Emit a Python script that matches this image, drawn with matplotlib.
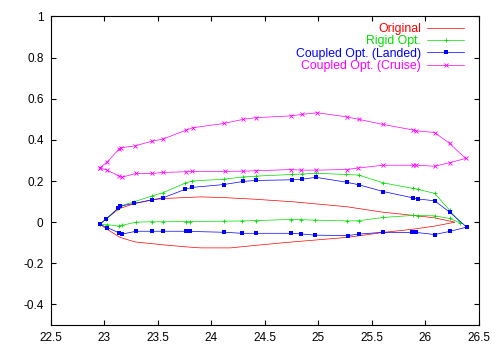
import matplotlib
matplotlib.use('Agg')
import matplotlib.pyplot as plt

plt.rcParams['font.family'] = ['Liberation Sans', 'DejaVu Sans']

# Original airfoil (no markers): upper LE->TE, then lower TE->LE
orig_x = [22.96, 23.03, 23.14, 23.28, 23.45, 23.55, 23.77, 23.9, 24.1, 24.4, 24.77, 25.27, 25.6, 25.89, 26.09, 26.28,
          26.09, 25.89, 25.61, 25.27, 24.74, 24.43, 24.18, 23.9, 23.77, 23.55, 23.29, 23.15, 23.03, 22.96]
orig_y = [-0.01, 0.02, 0.065, 0.09, 0.108, 0.115, 0.12, 0.123, 0.12, 0.112, 0.099, 0.075, 0.049, 0.033, 0.021, 0.0,
          -0.019, -0.034, -0.05, -0.074, -0.097, -0.112, -0.125, -0.125, -0.12, -0.11, -0.096, -0.074, -0.035, -0.01]

# Rigid optimisation
rigid_x = [22.96, 23.02, 23.13, 23.15, 23.28, 23.45, 23.55, 23.76, 23.82, 24.12, 24.30, 24.42, 24.76, 24.85, 24.98,
           25.26, 25.38, 25.61, 25.89, 25.93, 26.09, 26.23, 26.33,
           26.23, 26.09, 25.93, 25.89, 25.61, 25.38, 25.27, 24.97, 24.84, 24.75, 24.42, 24.29, 24.12, 23.80, 23.77,
           23.55, 23.45, 23.30, 23.17, 23.14, 23.03, 22.96]
rigid_y = [-0.01, 0.015, 0.067, 0.078, 0.099, 0.128, 0.143, 0.19, 0.20, 0.209, 0.22, 0.224, 0.232, 0.234, 0.238,
           0.232, 0.229, 0.191, 0.164, 0.16, 0.14, 0.058, -0.003,
           0.018, 0.031, 0.032, 0.033, 0.023, 0.007, 0.006, 0.01, 0.012, 0.013, 0.008, 0.006, 0.005, 0.003, 0.003,
           0.002, 0.002, 0.0, -0.015, -0.019, -0.012, -0.01]

# Coupled optimisation, landed
landed_x = [22.96, 23.02, 23.13, 23.15, 23.28, 23.45, 23.55, 23.76, 23.82, 24.12, 24.30, 24.42, 24.76, 24.85, 24.98,
            25.27, 25.38, 25.61, 25.89, 25.93, 26.09, 26.23, 26.39,
            26.23, 26.09, 25.92, 25.88, 25.61, 25.38, 25.28, 24.97, 24.84, 24.75, 24.42, 24.29, 24.12, 23.80, 23.77,
            23.55, 23.45, 23.30, 23.17, 23.14, 23.03, 22.96]
landed_y = [-0.01, 0.015, 0.067, 0.078, 0.091, 0.109, 0.118, 0.16, 0.169, 0.183, 0.198, 0.203, 0.206, 0.209, 0.218,
            0.194, 0.182, 0.149, 0.118, 0.113, 0.104, 0.049, -0.024,
            -0.045, -0.06, -0.05, -0.05, -0.049, -0.058, -0.065, -0.063, -0.057, -0.054, -0.054, -0.054, -0.049,
            -0.045, -0.044, -0.044, -0.044, -0.044, -0.058, -0.052, -0.026, -0.01]

# Coupled optimisation, cruise
cruise_x = [22.96, 23.03, 23.14, 23.16, 23.29, 23.45, 23.55, 23.77, 23.83, 24.12, 24.30, 24.42, 24.75, 24.85, 24.99,
            25.27, 25.38, 25.61, 25.89, 25.92, 26.09, 26.23, 26.38,
            26.23, 26.09, 25.92, 25.89, 25.61, 25.37, 25.27, 24.98, 24.84, 24.75, 24.42, 24.30, 24.13, 23.82, 23.77,
            23.55, 23.45, 23.30, 23.17, 23.14, 23.03, 22.96]
cruise_y = [0.264, 0.293, 0.355, 0.362, 0.371, 0.394, 0.404, 0.448, 0.459, 0.48, 0.50, 0.508, 0.517, 0.524, 0.532,
            0.512, 0.50, 0.475, 0.448, 0.444, 0.436, 0.383, 0.31,
            0.289, 0.272, 0.277, 0.277, 0.277, 0.263, 0.256, 0.253, 0.253, 0.256, 0.25, 0.248, 0.247, 0.247, 0.245,
            0.242, 0.237, 0.237, 0.219, 0.224, 0.253, 0.264]

xticks = [22.5, 23, 23.5, 24, 24.5, 25, 25.5, 26, 26.5]
yticks = [-0.4, -0.2, 0, 0.2, 0.4, 0.6, 0.8, 1]

fig = plt.figure(figsize=(5.01, 3.51), dpi=100)
ax = fig.add_axes([0.1008, 0.074, 0.8543, 0.879])

ax.plot(orig_x, orig_y, color='#ff0000', lw=0.5, label='Original')
ax.plot(rigid_x, rigid_y, color='#00dd00', lw=0.5, marker='+', ms=3, mew=0.6, label='Rigid Opt.')
ax.plot(landed_x, landed_y, color='#0000ff', lw=0.5, marker='s', ms=3.5, mew=0, label='Coupled Opt. (Landed)')
ax.plot(cruise_x, cruise_y, color='#ff00ff', lw=0.5, marker='x', ms=3.5, mew=0.6, label='Coupled Opt. (Cruise)')

ax.set_xlim(22.5, 26.5)
ax.set_ylim(-0.5, 1)
ax.set_xticks(xticks)
ax.set_xticklabels([f'{t:g}' for t in xticks])
ax.set_yticks(yticks)
ax.set_yticklabels([f'{t:g}' for t in yticks])
ax.tick_params(direction='in', length=3.5, width=0.8, top=True, right=True, labelsize=8.5, pad=5)
for s in ax.spines.values():
    s.set_linewidth(0.8)

leg = ax.legend(loc='upper right', bbox_to_anchor=(0.966, 0.979), frameon=False, markerfirst=False,
                labelcolor='linecolor', fontsize=8.8, numpoints=1, handlelength=3.0, handletextpad=0.5,
                labelspacing=0.03, borderaxespad=0, borderpad=0)

fig.savefig('out.png', dpi=100)
